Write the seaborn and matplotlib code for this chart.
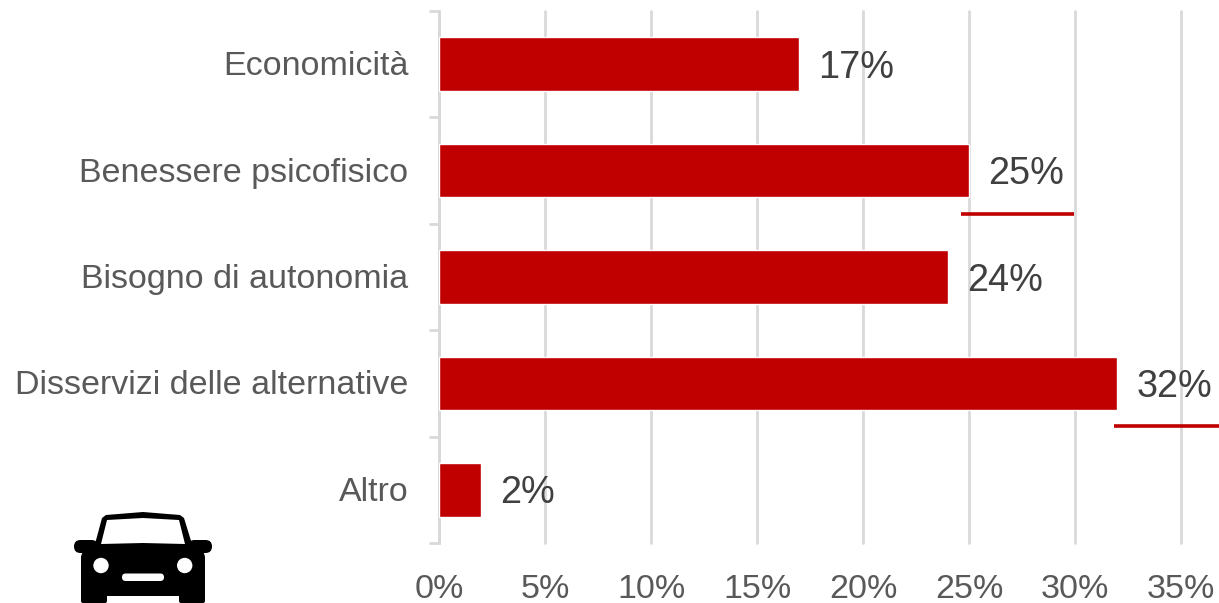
import numpy as np
import pandas as pd
import matplotlib
matplotlib.use("Agg")
import matplotlib.pyplot as plt
from matplotlib.patches import Circle, FancyBboxPatch, Polygon, Rectangle
from matplotlib.transforms import ScaledTranslation
import seaborn as sns

categories = ["Economicità", "Benessere psicofisico", "Bisogno di autonomia",
              "Disservizi delle alternative", "Altro"]
values = [17, 25, 24, 32, 2]
x_ticks = [0, 5, 10, 15, 20, 25, 30, 35]

RED = "#C00000"
GRID = "#D9D9D9"

sns.set_theme(style="white")
plt.rcParams["font.family"] = ["Liberation Sans", "DejaVu Sans"]

W, H = 1219, 603
fig = plt.figure(figsize=(W / 100, H / 100), dpi=100)
ax = fig.add_axes([439 / W, 1 - 543 / H, (1181 - 439) / W, (543 - 11) / H])

df = pd.DataFrame({"categoria": categories, "valore": values})
sns.barplot(data=df, x="valore", y="categoria", orient="h", color=RED,
            saturation=1, width=0.505, ax=ax, zorder=3)
ax.set_xlim(0, 35)
ax.set_ylim(4.5, -0.5)
ax.set_xlabel("")
ax.set_ylabel("")

# griglia e assi
ax.set_xticks(x_ticks)
ax.set_xticklabels([f"{t}%" for t in x_ticks], fontsize=24.5, color="#595959")
ax.tick_params(axis="x", length=0, pad=22)
ax.tick_params(axis="y", which="major", length=0, pad=22, labelsize=24.5, labelcolor="#595959")
ax.set_yticks(np.arange(-0.5, 5, 1), minor=True)
ax.tick_params(axis="y", which="minor", length=7, width=2, color=GRID, left=True)
ax.grid(axis="x", color=GRID, linewidth=2, zorder=0)
for line in ax.get_xgridlines():
    line.set_clip_on(False)
ax.set_axisbelow(True)
for side in ["top", "right", "bottom"]:
    ax.spines[side].set_visible(False)
ax.spines["left"].set_color(GRID)
ax.spines["left"].set_linewidth(2)

# sposta un po' in alto le etichette delle categorie
for lab in ax.get_yticklabels():
    lab.set_transform(lab.get_transform() + ScaledTranslation(0, 1 / 100, fig.dpi_scale_trans))

# etichette dei valori
for i, v in enumerate(values):
    ax.annotate(f"{v}%", (v, i), xytext=(13.6, -2.6), textcoords="offset points",
                va="center", ha="left", fontsize=27.3, color="#404040",
                annotation_clip=False, zorder=4)

# livello in pixel per sottolineature e icona
ov = fig.add_axes([0, 0, 1, 1], facecolor="none")
ov.set_xlim(0, W)
ov.set_ylim(H, 0)
ov.axis("off")
ov.plot([961, 1074], [214, 214], color=RED, lw=2.6, solid_capstyle="butt")
ov.plot([1114, 1219], [426, 426], color=RED, lw=2.6, solid_capstyle="butt")

# icona auto
K = "black"
ov.add_patch(Polygon([(95, 556), (95, 544), (102, 518), (106, 515), (143, 512), (180, 515),
                      (184, 518), (192, 544), (192, 556)], closed=True, fc=K, ec="none"))
ov.add_patch(Polygon([(101, 544), (107, 520), (143, 518), (179, 520), (185, 544),
                      (143, 543)], closed=True, fc="white", ec="none"))
ov.add_patch(FancyBboxPatch((81, 550), 124, 46, boxstyle="round,pad=0,rounding_size=8",
                            fc=K, ec="none"))
ov.add_patch(Rectangle((81, 570), 26, 30, fc=K, ec="none"))
ov.add_patch(Rectangle((179, 570), 26, 30, fc=K, ec="none"))
ov.add_patch(FancyBboxPatch((81, 594), 26, 9, boxstyle="round,pad=0,rounding_size=2",
                            fc=K, ec="none"))
ov.add_patch(FancyBboxPatch((179, 594), 26, 9, boxstyle="round,pad=0,rounding_size=2",
                            fc=K, ec="none"))
ov.add_patch(FancyBboxPatch((74, 540), 24, 13, boxstyle="round,pad=0,rounding_size=6.5",
                            fc=K, ec="none"))
ov.add_patch(FancyBboxPatch((188, 540), 24, 13, boxstyle="round,pad=0,rounding_size=6.5",
                            fc=K, ec="none"))
ov.add_patch(Circle((101, 565.5), 7.7, fc="white", ec="none"))
ov.add_patch(Circle((184.7, 565.5), 7.7, fc="white", ec="none"))
ov.add_patch(FancyBboxPatch((122, 573.5), 42, 7.5, boxstyle="round,pad=0,rounding_size=3.7",
                            fc="white", ec="none"))

fig.savefig("out.png", dpi=100)
